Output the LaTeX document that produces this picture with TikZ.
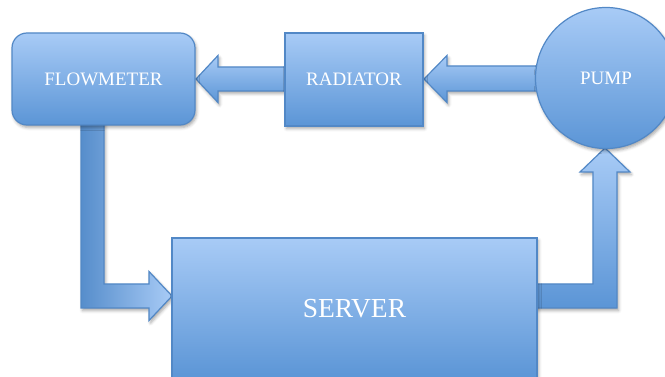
\documentclass[tikz,border=0pt]{standalone}
\usepackage{fontspec}
\setmainfont{Liberation Serif}
\usetikzlibrary{calc,shadows.blur}

\definecolor{blocktop}{HTML}{A8CBF6}
\definecolor{blockbot}{HTML}{5B95D6}
\definecolor{blockedge}{HTML}{5288C6}

\tikzset{
  blockbase/.style={draw=blockedge, line width=1.2pt,
    blur shadow={shadow xshift=1.5pt, shadow yshift=-2.5pt, shadow opacity=35, shadow blur radius=3pt}},
  blockshade/.style={blockbase, top color=blocktop, bottom color=blockbot},
  blockbox/.style={blockshade, rectangle, inner sep=0pt, text=white,
    font=\fontsize{19}{22}\selectfont},
  flowarrow/.style={blockshade, line join=miter},
  sidearrow/.style={blockbase, left color=blockbot!95!black, right color=blocktop, line join=miter},
}

\begin{document}
\begin{tikzpicture}[x=1pt,y=-1pt]
\useasboundingbox (0,0) rectangle (665,377);

% block positions (coordinates only; nodes are drawn after the arrows)
\coordinate (cflow) at (103.5,79);
\coordinate (crad) at (354,79.5);
\coordinate (cpump) at (606,78);
\coordinate (cserv) at (354.5,308.5);

% pump -> radiator
\path[flowarrow]
  ($(cpump)+(0,-12)$) -- (447,66) -- (447,55.5) -- (424,79) -- (447,102.5)
  -- (447,91) -- ($(cpump)+(0,13)$) -- cycle;

% radiator -> flowmeter
\path[flowarrow]
  ($(crad)+(0,-12.5)$) -- (218,67) -- (218,55.5) -- (196,79) -- (218,102.5)
  -- (218,91) -- ($(crad)+(0,11.5)$) -- cycle;

% flowmeter -> server (elbow)
\path[sidearrow]
  (81,110) -- (104,110) -- (104,284) -- (149,284) -- (149,271.5) -- (172,296)
  -- (149,320.5) -- (149,308) -- (81,308) -- cycle;

% server -> pump (elbow)
\path[flowarrow]
  (520,284) -- (593,284) -- (593,172) -- (580,172) -- (605,148) -- (630,172)
  -- (617,172) -- (617,308) -- (520,308) -- cycle;

% blocks
\node[blockbox, rounded corners=15pt, minimum width=183pt, minimum height=92pt] (flow) at (cflow) {FLOWMETER};
\node[blockbox, minimum width=138pt, minimum height=93pt] (rad) at (crad) {RADIATOR};
\node[blockbox, circle, minimum size=141pt] (pump) at (cpump) {PUMP};
\node[blockbox, minimum width=365pt, minimum height=141pt,
  font=\fontsize{27.5}{32}\selectfont] (serv) at (cserv) {\raisebox{1pt}{SERVER}};
\end{tikzpicture}
\end{document}
